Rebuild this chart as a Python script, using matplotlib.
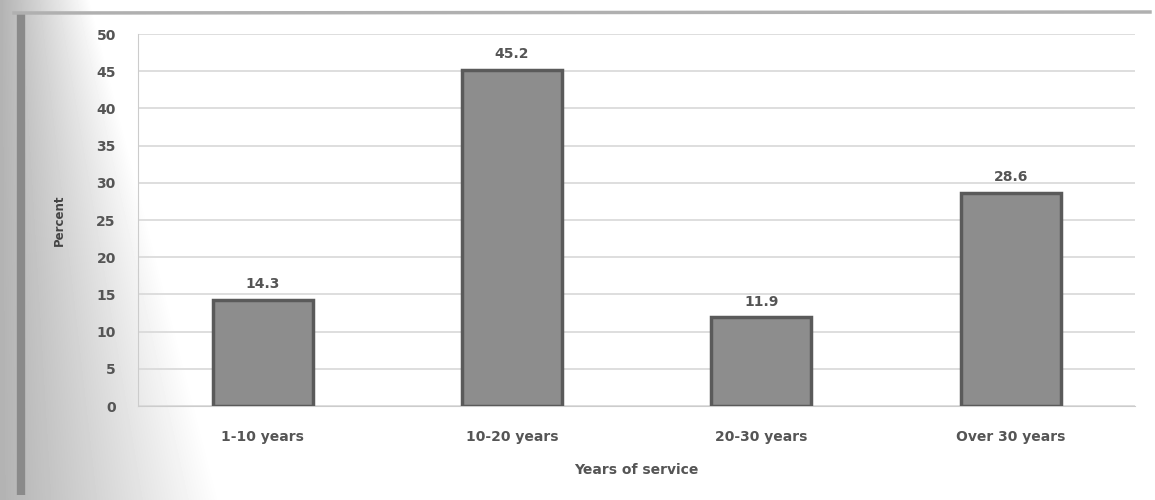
import matplotlib
matplotlib.use("Agg")
import matplotlib.pyplot as plt
import numpy as np

categories = ["1-10 years", "10-20 years", "20-30 years", "Over 30 years"]
values = [14.3, 45.2, 11.9, 28.6]
labels = ["14.3", "45.2", "11.9", "28.6"]
yticks = [0, 5, 10, 15, 20, 25, 30, 35, 40, 45, 50]

fig = plt.figure(figsize=(11.55, 5), dpi=100)
fig.patch.set_facecolor("white")

# left gray gradient band (decorative background of the scanned figure)
bg = fig.add_axes([0, 0, 1, 1], zorder=-10)
W, H = 1155, 500
xx = np.arange(W)[None, :]
yy = np.arange(H)[:, None]
reach = 90 + 130 * (yy / H)  # gradient reaches further at the bottom
g = np.clip(0.70 + 0.30 * (xx / reach), 0, 1)
bg.imshow(g, cmap="gray", vmin=0, vmax=1, aspect="auto", extent=[0, W, H, 0])
bg.plot([21, 21], [12, 495], color="#8a8a8a", lw=6, solid_capstyle="butt")
bg.plot([14, 1150], [13, 12], color="#b0b0b0", lw=2.5)
bg.set_xlim(0, W); bg.set_ylim(H, 0)
bg.axis("off")

ax = fig.add_axes([0.1195, 0.188, 0.8635, 0.744])
ax.set_facecolor("none")
x = np.arange(len(categories))
ax.bar(x, values, width=0.4, color="#8d8d8d", edgecolor="#5a5a5a", linewidth=2.5, zorder=3)
for xi, v, lab in zip(x, values, labels):
    ax.text(xi, v + 1.2, lab, ha="center", va="bottom", fontsize=10, fontweight="bold", color="#555555")

ax.set_xlim(-0.5, 3.5)
ax.set_ylim(0, 50)
ax.set_yticks(yticks)
ax.set_yticklabels([str(t) for t in yticks], fontsize=10, fontweight="bold", color="#555555")
ax.set_xticks(x)
ax.set_xticklabels(categories, fontsize=10, fontweight="bold", color="#555555")
ax.tick_params(axis="y", length=0, pad=16)
ax.tick_params(axis="x", length=0, pad=17)
ax.grid(axis="y", color="#d8d8d8", linewidth=1.2, zorder=0)
for s in ["top", "right"]:
    ax.spines[s].set_visible(False)
ax.spines["left"].set_color("#cccccc")
ax.spines["bottom"].set_color("#cccccc")
ax.set_ylabel("Percent", fontsize=8.5, fontweight="bold", color="#444444", labelpad=22)
ax.set_xlabel("Years of service", fontsize=10, fontweight="bold", color="#555555", labelpad=14)

fig.savefig("out.png", dpi=100)
